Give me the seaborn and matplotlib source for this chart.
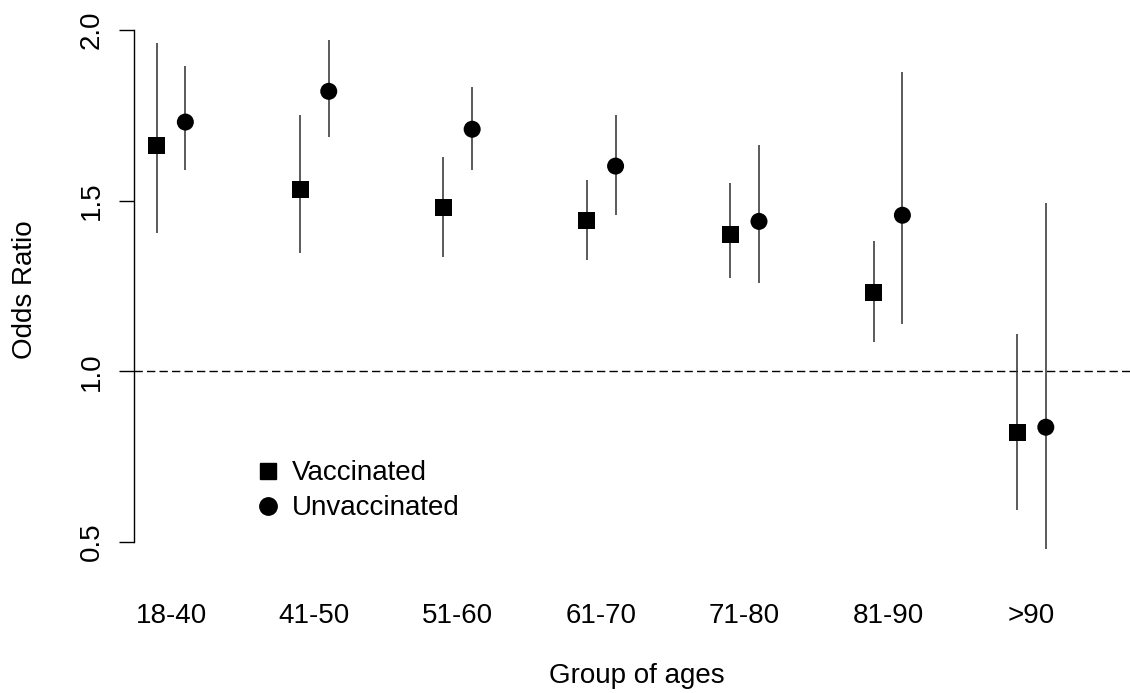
import matplotlib
matplotlib.use("Agg")
import matplotlib.pyplot as plt
from matplotlib.lines import Line2D
import seaborn as sns
import pandas as pd
import numpy as np

age_groups = ["18-40", "41-50", "51-60", "61-70", "71-80", "81-90", ">90"]
vacc_or = [1.662, 1.533, 1.480, 1.442, 1.401, 1.231, 0.821]
vacc_lo = [1.404, 1.346, 1.334, 1.325, 1.272, 1.085, 0.593]
vacc_hi = [1.961, 1.750, 1.627, 1.560, 1.551, 1.381, 1.108]
unvacc_or = [1.730, 1.820, 1.709, 1.601, 1.439, 1.457, 0.836]
unvacc_lo = [1.589, 1.686, 1.589, 1.457, 1.258, 1.138, 0.478]
unvacc_hi = [1.894, 1.970, 1.832, 1.750, 1.662, 1.876, 1.492]
y_ticks = [0.5, 1.0, 1.5, 2.0]

sns.set_style("white")
plt.rcParams["font.family"] = ["Liberation Sans", "DejaVu Sans"]
plt.rcParams["text.color"] = "black"
plt.rcParams["axes.labelcolor"] = "black"
plt.rcParams["xtick.color"] = "black"
plt.rcParams["ytick.color"] = "black"

idx = np.arange(1, len(age_groups) + 1)
offset = 0.1
df = pd.concat([
    pd.DataFrame({"pos": idx - offset, "OR": vacc_or, "lo": vacc_lo, "hi": vacc_hi,
                  "group": "Vaccinated"}),
    pd.DataFrame({"pos": idx + offset, "OR": unvacc_or, "lo": unvacc_lo, "hi": unvacc_hi,
                  "group": "Unvaccinated"}),
], ignore_index=True)

fig = plt.figure(figsize=(11.3, 6.93), dpi=100)
ax = fig.add_axes([134 / 1130, (693 - 560) / 693, 996 / 1130, 540 / 693])

ax.axhline(1.0, color="black", lw=1.0, dashes=(6, 3), zorder=1)
ax.vlines(df["pos"], df["lo"], df["hi"], color="#2e2e2e", lw=1.1, zorder=2)
sns.scatterplot(data=df, x="pos", y="OR", style="group",
                markers={"Vaccinated": "s", "Unvaccinated": "o"},
                color="black", s=150, edgecolor="black", linewidth=0,
                legend=False, ax=ax, zorder=3)

ax.set_xlim(0.742, 7.687)
ax.set_ylim(0.447, 2.029)

for side in ["top", "right", "bottom"]:
    ax.spines[side].set_visible(False)
ax.spines["left"].set_bounds(0.5, 2.0)
ax.spines["left"].set_linewidth(1.0)
ax.spines["left"].set_color("black")

ax.set_yticks(y_ticks)
ax.set_yticklabels([f"{v:.1f}" for v in y_ticks], rotation=90, va="center", fontsize=20)
ax.tick_params(axis="y", length=11, width=1.0, direction="out", color="black", pad=10, left=True)
ax.set_xticks(idx)
ax.set_xticklabels(age_groups, fontsize=20)
ax.tick_params(axis="x", length=0, pad=31)

ax.set_ylabel("Odds Ratio", fontsize=20)
ax.yaxis.set_label_coords(-0.109, 0.5)
ax.set_xlabel("Group of ages", fontsize=20)
ax.xaxis.set_label_coords(0.505, -0.215)
ax.xaxis.label.set_va("center")
ax.yaxis.label.set_va("center")

handles = [
    Line2D([], [], marker="s", color="black", ls="none", markersize=12),
    Line2D([], [], marker="o", color="black", ls="none", markersize=12.5),
]
ax.legend(handles, ["Vaccinated", "Unvaccinated"], loc="center left",
          bbox_to_anchor=(0.1205, 0.128), frameon=False, fontsize=20,
          borderpad=0, borderaxespad=0, handlelength=1.0, handletextpad=0.35,
          labelspacing=0.32)

fig.savefig("out.png", dpi=100, facecolor="white")
